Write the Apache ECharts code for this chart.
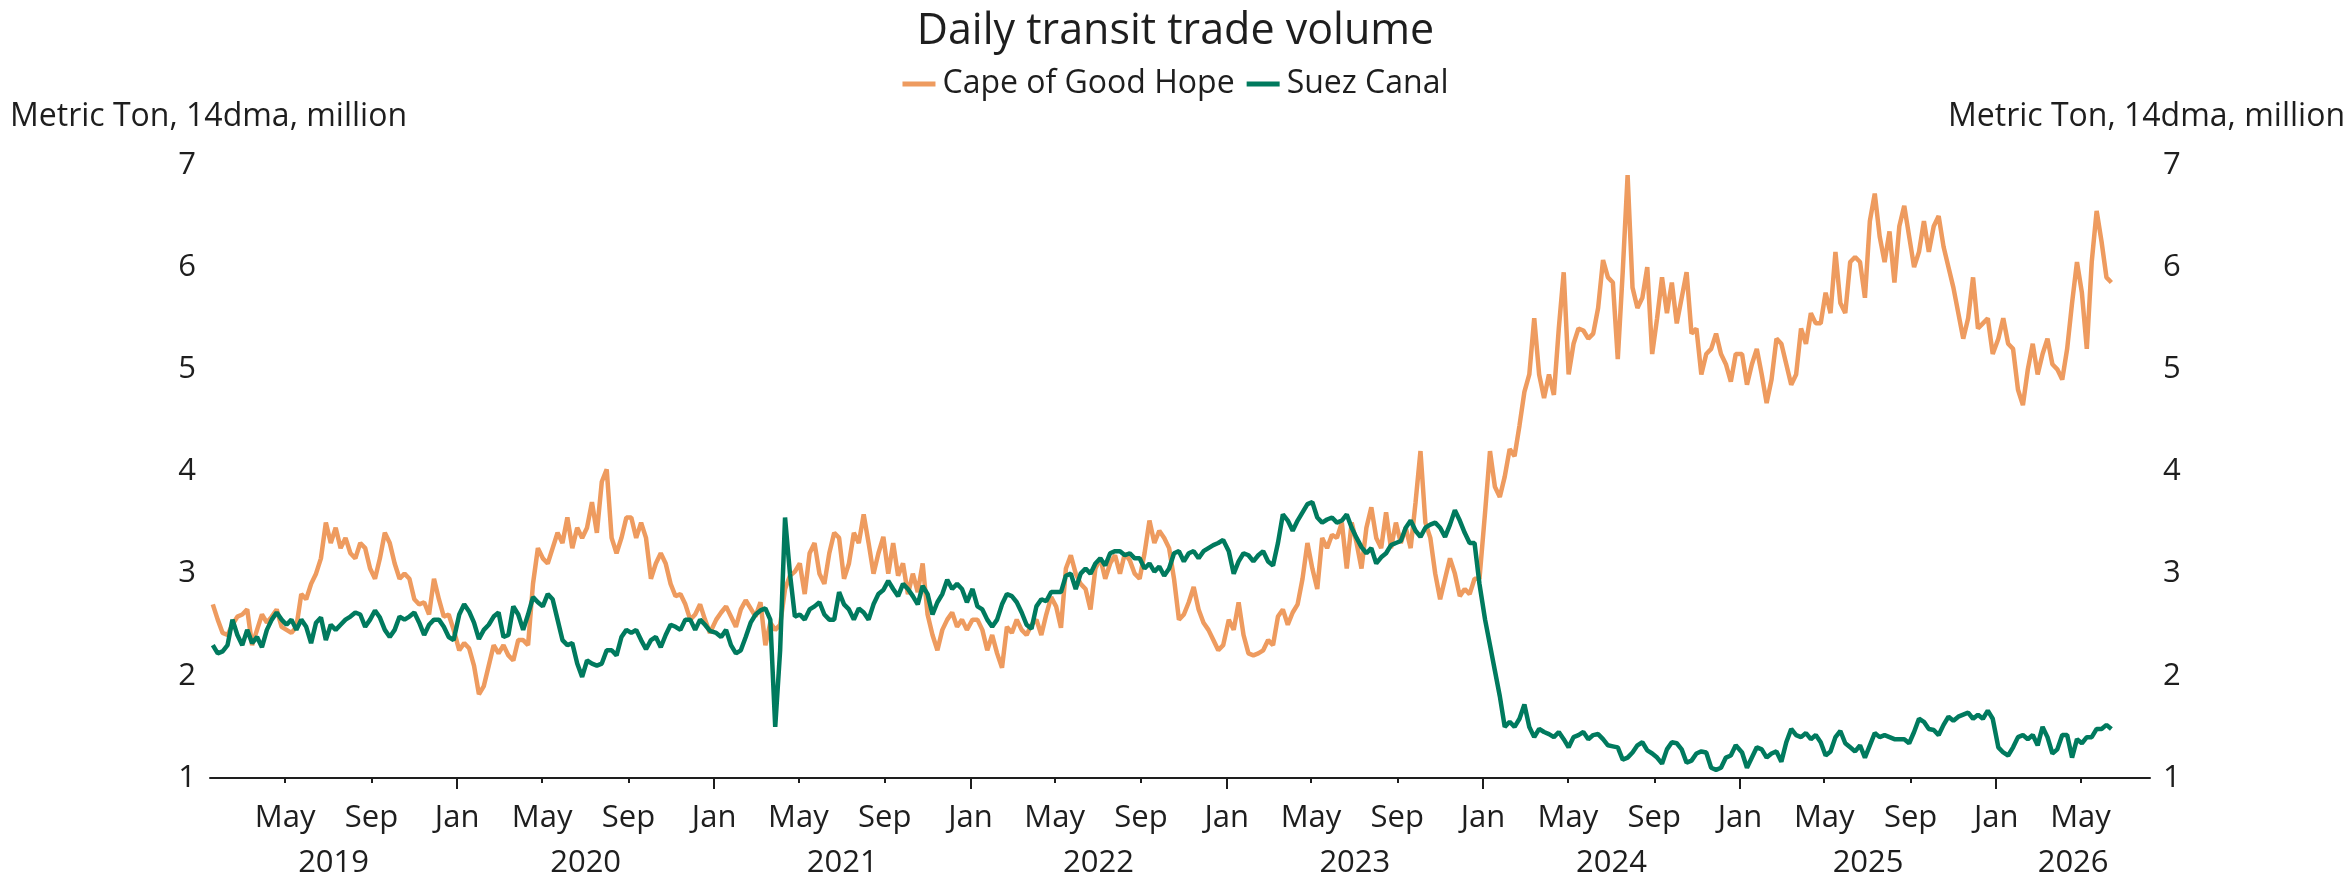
<!DOCTYPE html>
<html>
<head>
<meta charset="utf-8">
<title>Daily transit trade volume</title>
<script src="https://cdn.jsdelivr.net/npm/echarts@6/dist/echarts.min.js"></script>
<style>
  html, body { margin: 0; padding: 0; background: #fff; }
  #chart { width: 2351px; height: 884px; }
</style>
</head>
<body>
<div id="chart"></div>
<script>
// weekly readings (14dma, million metric tons); week i of a year sits at Jan 4 + 7*i
const years = [2019, 2020, 2021, 2022, 2023, 2024, 2025, 2026];

const cape2019 = [null, null, 2.70, 2.55, 2.42, 2.40, 2.50, 2.58, 2.60, 2.65, 2.30, 2.45, 2.60,
  2.52, 2.58, 2.65, 2.48, 2.45, 2.42, 2.48, 2.80, 2.75, 2.90, 3.00, 3.15, 3.50,
  3.30, 3.45, 3.25, 3.35, 3.20, 3.15, 3.30, 3.25, 3.05, 2.95, 3.15, 3.40, 3.30,
  3.10, 2.95, 3.00, 2.95, 2.75, 2.70, 2.72, 2.60, 2.95, 2.75, 2.58, 2.60, 2.45];
const cape2020 = [2.25, 2.32, 2.27, 2.10, 1.82, 1.90, 2.10, 2.30, 2.22, 2.30, 2.20, 2.15, 2.35,
  2.35, 2.30, 2.90, 3.25, 3.15, 3.10, 3.25, 3.40, 3.30, 3.55, 3.25, 3.45, 3.35,
  3.45, 3.70, 3.40, 3.90, 4.02, 3.35, 3.20, 3.35, 3.55, 3.55, 3.35, 3.50, 3.35,
  2.95, 3.10, 3.20, 3.10, 2.90, 2.78, 2.80, 2.70, 2.55, 2.60, 2.70, 2.55, 2.42];
const cape2021 = [2.55, 2.62, 2.68, 2.58, 2.48, 2.65, 2.74, 2.66, 2.58, 2.72, 2.30, 2.52, 2.45,
  2.50, 2.85, 2.98, 3.02, 3.10, 2.80, 3.20, 3.30, 3.00, 2.90, 3.20, 3.40, 3.35,
  2.95, 3.10, 3.40, 3.30, 3.58, 3.30, 3.00, 3.20, 3.36, 3.00, 3.30, 2.98, 3.10,
  2.80, 3.00, 2.82, 3.10, 2.60, 2.40, 2.25, 2.45, 2.55, 2.62, 2.48, 2.55, 2.45];
const cape2022 = [2.55, 2.55, 2.45, 2.25, 2.40, 2.22, 2.08, 2.48, 2.42, 2.55, 2.45, 2.40, 2.50,
  2.55, 2.40, 2.60, 2.77, 2.68, 2.47, 3.05, 3.18, 3.00, 2.90, 2.85, 2.65, 3.05,
  3.15, 2.95, 3.10, 3.18, 3.00, 3.20, 3.13, 3.00, 2.95, 3.20, 3.52, 3.30, 3.42,
  3.35, 3.25, 2.95, 2.55, 2.60, 2.72, 2.87, 2.65, 2.52, 2.45, 2.35, 2.25, 2.30];
const cape2023 = [2.55, 2.45, 2.72, 2.40, 2.22, 2.20, 2.22, 2.25, 2.35, 2.30, 2.58, 2.65, 2.50,
  2.62, 2.70, 2.95, 3.30, 3.05, 2.85, 3.35, 3.25, 3.38, 3.35, 3.50, 3.05, 3.50,
  3.30, 3.05, 3.45, 3.65, 3.35, 3.25, 3.60, 3.25, 3.50, 3.30, 3.45, 3.25, 3.70,
  4.20, 3.50, 3.35, 3.00, 2.75, 2.95, 3.15, 3.00, 2.78, 2.85, 2.80, 2.95, 2.95];
const cape2024 = [3.60, 4.20, 3.85, 3.75, 3.95, 4.22, 4.15, 4.45, 4.78, 4.95, 5.50, 4.95, 4.72,
  4.95, 4.75, 5.40, 5.95, 4.95, 5.25, 5.40, 5.38, 5.30, 5.35, 5.60, 6.07, 5.90,
  5.85, 5.10, 5.95, 6.90, 5.80, 5.60, 5.70, 6.00, 5.15, 5.50, 5.90, 5.55, 5.85,
  5.45, 5.70, 5.95, 5.35, 5.40, 4.95, 5.15, 5.20, 5.35, 5.15, 5.05, 4.88, 5.15];
const cape2025 = [5.15, 4.85, 5.05, 5.20, 4.95, 4.67, 4.90, 5.30, 5.25, 5.05, 4.85, 4.95, 5.40,
  5.25, 5.55, 5.45, 5.45, 5.75, 5.55, 6.15, 5.65, 5.55, 6.05, 6.10, 6.05, 5.70,
  6.45, 6.72, 6.30, 6.05, 6.35, 5.85, 6.40, 6.60, 6.30, 6.00, 6.15, 6.45, 6.15,
  6.40, 6.50, 6.20, 6.00, 5.80, 5.55, 5.30, 5.50, 5.90, 5.40, 5.45, 5.50, 5.15];
const cape2026 = [5.30, 5.50, 5.25, 5.20, 4.80, 4.65, 5.00, 5.25, 4.95, 5.15, 5.30, 5.05, 5.00,
  4.90, 5.20, 5.65, 6.05, 5.75, 5.20, 6.05, 6.55, 6.25, 5.90, 5.85];

const suez2019 = [null, null, 2.30, 2.22, 2.24, 2.30, 2.55, 2.40, 2.30, 2.45, 2.32, 2.38, 2.28,
  2.45, 2.55, 2.62, 2.55, 2.50, 2.55, 2.45, 2.55, 2.48, 2.32, 2.52, 2.57, 2.35,
  2.50, 2.45, 2.50, 2.55, 2.58, 2.62, 2.60, 2.48, 2.55, 2.64, 2.57, 2.45, 2.38,
  2.45, 2.58, 2.55, 2.58, 2.62, 2.52, 2.40, 2.50, 2.55, 2.55, 2.48, 2.38, 2.35];
const suez2020 = [2.60, 2.70, 2.63, 2.52, 2.36, 2.45, 2.50, 2.58, 2.62, 2.38, 2.40, 2.68, 2.60,
  2.45, 2.60, 2.77, 2.72, 2.68, 2.80, 2.75, 2.55, 2.35, 2.30, 2.32, 2.12, 1.99,
  2.15, 2.12, 2.10, 2.12, 2.25, 2.25, 2.20, 2.38, 2.45, 2.42, 2.45, 2.35, 2.26,
  2.35, 2.38, 2.28, 2.40, 2.50, 2.48, 2.45, 2.55, 2.55, 2.45, 2.55, 2.50, 2.44];
const suez2021 = [2.42, 2.38, 2.45, 2.30, 2.22, 2.25, 2.38, 2.52, 2.60, 2.64, 2.66, 2.55, 1.50,
  2.25, 3.55, 3.00, 2.58, 2.60, 2.55, 2.65, 2.68, 2.72, 2.60, 2.55, 2.55, 2.82,
  2.70, 2.65, 2.55, 2.66, 2.62, 2.55, 2.70, 2.80, 2.84, 2.93, 2.85, 2.78, 2.90,
  2.85, 2.78, 2.70, 2.88, 2.80, 2.60, 2.72, 2.80, 2.94, 2.85, 2.90, 2.85, 2.72];
const suez2022 = [2.85, 2.68, 2.65, 2.55, 2.48, 2.55, 2.70, 2.80, 2.78, 2.72, 2.62, 2.50, 2.46,
  2.68, 2.75, 2.73, 2.82, 2.82, 2.82, 2.98, 3.00, 2.85, 3.00, 3.05, 3.00, 3.10,
  3.15, 3.08, 3.20, 3.22, 3.22, 3.18, 3.20, 3.15, 3.15, 3.05, 3.10, 3.02, 3.07,
  2.98, 3.05, 3.20, 3.22, 3.12, 3.20, 3.22, 3.15, 3.22, 3.25, 3.28, 3.30, 3.33];
const suez2023 = [3.22, 3.00, 3.12, 3.20, 3.18, 3.12, 3.18, 3.22, 3.12, 3.08, 3.30, 3.58, 3.52,
  3.42, 3.52, 3.60, 3.68, 3.70, 3.55, 3.50, 3.53, 3.55, 3.50, 3.52, 3.58, 3.45,
  3.35, 3.26, 3.20, 3.25, 3.10, 3.16, 3.20, 3.28, 3.30, 3.32, 3.45, 3.52, 3.42,
  3.36, 3.45, 3.48, 3.50, 3.45, 3.36, 3.48, 3.62, 3.52, 3.40, 3.30, 3.30, 2.90];
const suez2024 = [2.55, 2.30, 2.05, 1.80, 1.50, 1.55, 1.50, 1.58, 1.72, 1.50, 1.40, 1.48, 1.45,
  1.43, 1.40, 1.45, 1.38, 1.30, 1.40, 1.42, 1.45, 1.38, 1.42, 1.43, 1.38, 1.32,
  1.31, 1.30, 1.18, 1.20, 1.25, 1.32, 1.35, 1.27, 1.24, 1.20, 1.14, 1.28, 1.35,
  1.34, 1.28, 1.15, 1.17, 1.24, 1.26, 1.25, 1.10, 1.08, 1.10, 1.20, 1.22, 1.32];
const suez2025 = [1.25, 1.10, 1.20, 1.30, 1.28, 1.20, 1.24, 1.26, 1.16, 1.35, 1.48, 1.42, 1.40,
  1.44, 1.38, 1.42, 1.35, 1.22, 1.26, 1.40, 1.46, 1.34, 1.30, 1.26, 1.32, 1.20,
  1.32, 1.44, 1.40, 1.42, 1.40, 1.38, 1.38, 1.38, 1.34, 1.45, 1.58, 1.55, 1.48,
  1.47, 1.42, 1.52, 1.60, 1.56, 1.60, 1.62, 1.64, 1.58, 1.62, 1.58, 1.66, 1.58];
const suez2026 = [1.30, 1.25, 1.22, 1.30, 1.40, 1.42, 1.38, 1.42, 1.32, 1.50, 1.40, 1.24, 1.28,
  1.42, 1.42, 1.20, 1.38, 1.34, 1.40, 1.40, 1.48, 1.48, 1.52, 1.48];

const capeByYear = [cape2019, cape2020, cape2021, cape2022, cape2023, cape2024, cape2025, cape2026];
const suezByYear = [suez2019, suez2020, suez2021, suez2022, suez2023, suez2024, suez2025, suez2026];

const seriesNames = ['Cape of Good Hope', 'Suez Canal'];
const seriesColors = ['#EE9B5F', '#007A5E'];
const tickMonths = [0, 4, 8];
const monthNames = ['Jan', 'Feb', 'Mar', 'Apr', 'May', 'Jun', 'Jul', 'Aug', 'Sep', 'Oct', 'Nov', 'Dec'];
const yTicks = [1, 2, 3, 4, 5, 6, 7];
const axisTitle = 'Metric Ton, 14dma, million';

const xMin = Date.UTC(2019, 0, 14);
const xMax = Date.UTC(2026, 7, 8);

function toPoints(byYear) {
  const out = [];
  byYear.forEach((arr, k) => {
    arr.forEach((v, i) => {
      if (v !== null) out.push([Date.UTC(years[k], 0, 4 + 7 * i), v]);
    });
  });
  return out;
}

// month ticks/labels (Jan, May, Sep) and year labels centred on the visible part of each year
const monthTicks = [];
const janTicks = [];
const yearCenters = [];
years.forEach(y => {
  tickMonths.forEach(m => {
    const t = Date.UTC(y, m, 1);
    if (t >= xMin && t <= xMax) monthTicks.push(t);
    if (m === 0 && t >= xMin && t <= xMax) janTicks.push(t);
  });
  const a = Math.max(Date.UTC(y, 0, 1), xMin);
  const b = Math.min(Date.UTC(y + 1, 0, 1), xMax);
  yearCenters.push((a + b) / 2);
});

const font = 'Open Sans';
const textColor = '#1e1e1e';

var myChart = echarts.init(document.getElementById('chart'));
var option = {
  animation: false,
  textStyle: { fontFamily: font },
  title: [
    {
      text: 'Daily transit trade volume',
      left: 'center',
      top: 10,
      padding: 0,
      textStyle: { fontFamily: font, fontSize: 43, fontWeight: 'normal', color: textColor }
    },
    {
      text: axisTitle,
      left: 10,
      top: 101,
      padding: 0,
      textStyle: { fontFamily: font, fontSize: 32, fontWeight: 'normal', color: textColor }
    },
    {
      text: axisTitle,
      right: 6,
      top: 101,
      padding: 0,
      textStyle: { fontFamily: font, fontSize: 32, fontWeight: 'normal', color: textColor }
    }
  ],
  legend: {
    top: 68,
    left: 'center',
    padding: 0,
    itemGap: 12,
    itemWidth: 33,
    itemHeight: 5,
    icon: 'rect',
    textStyle: { fontFamily: font, fontSize: 32, color: textColor, padding: [0, 0, 0, 2] },
    data: seriesNames
  },
  grid: {
    left: 210,
    right: 201,
    top: 165,
    bottom: 106,
    containLabel: false
  },
  xAxis: [
    {
      type: 'value',
      min: xMin,
      max: xMax,
      axisLine: { show: true, lineStyle: { color: '#1e1e1e', width: 2 } },
      axisTick: {
        show: true,
        customValues: monthTicks,
        length: 5,
        lineStyle: { color: '#1e1e1e', width: 2 }
      },
      axisLabel: {
        customValues: monthTicks,
        margin: 25,
        fontFamily: font,
        fontSize: 31,
        color: textColor,
        formatter: function (value) {
          return monthNames[new Date(value).getUTCMonth()];
        }
      },
      splitLine: { show: false }
    },
    {
      type: 'value',
      position: 'bottom',
      min: xMin,
      max: xMax,
      axisLine: { show: false },
      axisTick: {
        show: true,
        customValues: janTicks,
        length: 11,
        lineStyle: { color: '#1e1e1e', width: 2 }
      },
      axisLabel: {
        customValues: yearCenters,
        margin: 70,
        fontFamily: font,
        fontSize: 31,
        color: textColor,
        formatter: function (value) {
          return String(new Date(value).getUTCFullYear());
        }
      },
      splitLine: { show: false }
    }
  ],
  yAxis: [
    {
      type: 'value',
      position: 'left',
      min: yTicks[0],
      max: yTicks[yTicks.length - 1],
      interval: 1,
      axisLine: { show: false },
      axisTick: { show: false },
      splitLine: { show: false },
      axisLabel: { margin: 14, fontFamily: font, fontSize: 31, color: textColor }
    },
    {
      type: 'value',
      position: 'right',
      min: yTicks[0],
      max: yTicks[yTicks.length - 1],
      interval: 1,
      axisLine: { show: false },
      axisTick: { show: false },
      splitLine: { show: false },
      axisLabel: { margin: 13, fontFamily: font, fontSize: 31, color: textColor }
    }
  ],
  series: [
    {
      name: seriesNames[0],
      type: 'line',
      xAxisIndex: 0,
      yAxisIndex: 0,
      showSymbol: false,
      color: seriesColors[0],
      lineStyle: { width: 4.5, color: seriesColors[0] },
      data: toPoints(capeByYear)
    },
    {
      name: seriesNames[1],
      type: 'line',
      xAxisIndex: 0,
      yAxisIndex: 0,
      showSymbol: false,
      color: seriesColors[1],
      lineStyle: { width: 4.5, color: seriesColors[1] },
      data: toPoints(suezByYear)
    }
  ]
};

option && myChart.setOption(option);
</script>
</body>
</html>
